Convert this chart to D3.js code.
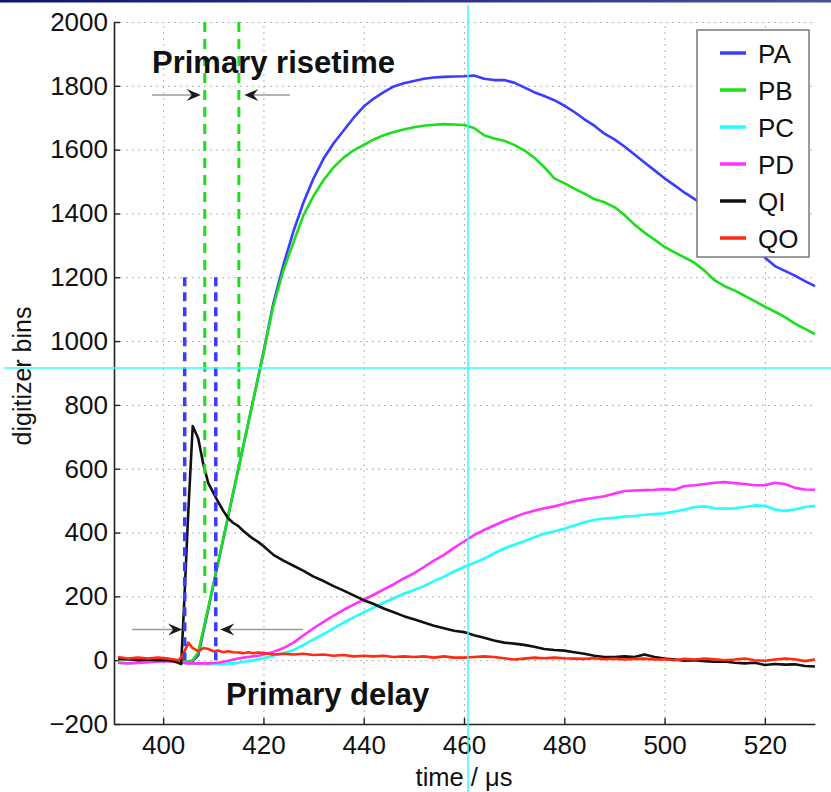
<!DOCTYPE html>
<html><head><meta charset="utf-8">
<script src="https://cdn.jsdelivr.net/npm/d3@7"></script>
<style>
html,body{margin:0;padding:0;background:#fff;}
svg text{font-family:"Liberation Sans",Arial,Helvetica,sans-serif;}
</style>
</head><body>
<svg id="c" width="831" height="792"></svg>
<script>
// ---- data ----
const time = [391,393,395,397,399,401,402,403,403.6,404.2,405,405.9,407,408,409,410,411,412,413,414,415,416,417,418,419,420,
 422,424,426,428,430,432,434,436,438,440,442,444,446,448,450,452,454,456,458,460,462,464,466,468,470,472,474,476,478,480,
 482,484,486,488,490,492,494,496,498,500,502,504,506,508,510,512,514,516,518,520,522,524,526,528,530];

const PA = [3,2,0,2,1,0,-2,-3,-3,-5,-5,-3,15,88,160,234,307,380,453,526,599,672,745,818,891,964,
 1120,1240,1345,1435,1510,1572,1620,1660,1700,1735,1760,1780,1798,1808,1815,1822,1826,1828,1829,1830,1832,1822,1818,1818,1810,1795,1780,1768,1755,1738,
 1718,1695,1675,1650,1632,1610,1585,1560,1535,1510,1488,1465,1445,1420,1395,1370,1345,1320,1290,1262,1235,1220,1205,1188,1172];

const PB = [2,3,1,0,2,1,-1,-2,-2,-4,-4,0,25,95,165,238,310,382,455,528,600,672,745,818,890,962,
 1112,1222,1310,1395,1455,1505,1545,1575,1598,1615,1632,1645,1655,1663,1670,1675,1678,1680,1679,1677,1668,1645,1635,1628,1615,1598,1575,1545,1510,1495,
 1478,1462,1445,1435,1420,1395,1365,1340,1318,1295,1278,1262,1245,1220,1190,1172,1158,1142,1125,1108,1092,1075,1055,1038,1022];

const PC = [-8,-10,-8,-5,-3,-2,-3,-4,-6,-8,-10,-10,-12,-12,-13,-12,-12,-12,-10,-10,-8,-5,-3,0,3,6,
 14,22,32,48,65,82,100,118,134,150,165,180,195,208,220,232,248,262,278,292,305,318,335,350,362,373,385,396,404,412,
 422,432,440,444,446,450,452,456,458,460,466,472,480,482,476,475,476,480,485,484,472,468,472,480,484];

const PD = [-8,-10,-9,-6,-4,-3,-4,-5,-7,-9,-10,-10,-10,-10,-10,-9,-8,-5,-2,2,5,8,10,12,14,18,
 26,38,55,78,100,120,140,158,174,190,205,222,238,256,272,292,312,330,352,372,392,408,422,436,448,460,468,476,482,490,
 498,504,509,514,522,530,532,533,534,536,534,546,548,552,556,558,555,552,548,548,556,552,540,535,534];

const QI = [5,3,0,2,0,0,-3,-8,-12,180,460,734,695,615,555,525,495,468,444,430,420,405,392,380,370,358,
 330,312,296,280,262,248,232,218,203,188,176,162,150,138,128,118,108,100,92,88,78,70,62,55,52,48,42,35,32,30,
 25,20,14,10,10,12,10,18,10,5,2,-2,0,-3,-5,-4,-8,-10,-8,-15,-12,-14,-13,-18,-20];

const QO = [10,5,8,5,8,5,3,0,8,25,55,38,28,38,35,28,30,25,28,25,24,22,25,22,24,22,
 18,20,18,20,16,18,14,16,12,14,12,14,10,12,10,12,8,12,8,8,10,12,10,6,2,5,8,6,8,6,
 5,4,6,3,5,2,4,5,2,3,0,4,2,5,3,0,2,5,0,-2,2,5,3,-3,2];

const seriesNames = ["PA","PB","PC","PD","QI","QO"];
const seriesValues = [PA,PB,PC,PD,QI,QO];
const seriesColors = ["#3a3cff","#19e019","#22ffff","#ff33ff","#111111","#ff2a10"];

const xTicks = [400,420,440,460,480,500,520];
const yTicks = [-200,0,200,400,600,800,1000,1200,1400,1600,1800,2000];

// annotation markers (times and value extents)
const risetimeMarks = [{t:408.3, from:2000, to:200},{t:415.1, from:2000, to:600}];
const delayMarks = [{t:404.3, from:1200, to:0},{t:410.5, from:1200, to:0}];

// ---- drawing ----
const svg = d3.select("#c");
const x = d3.scaleLinear().domain([390.2,530]).range([114,815]);
const y = d3.scaleLinear().domain([-200,2000]).range([724,22]);

// top banner line
const grad = svg.append("defs").append("linearGradient").attr("id","bar").attr("x1","0").attr("x2","1");
grad.append("stop").attr("offset","0").attr("stop-color","#0b1670");
grad.append("stop").attr("offset","1").attr("stop-color","#4a4f98");
svg.append("rect").attr("x",0).attr("y",0).attr("width",831).attr("height",2.5).attr("fill","url(#bar)");

// grid
const grid = svg.append("g").attr("stroke","#b4b4b4").attr("stroke-width",1).attr("stroke-dasharray","2,4");
grid.selectAll("line.h").data(yTicks).join("line").attr("class","h")
  .attr("x1",x.range()[0]).attr("x2",x.range()[1]).attr("y1",d=>y(d)+0.5).attr("y2",d=>y(d)+0.5);
grid.selectAll("line.v").data(xTicks).join("line").attr("class","v")
  .attr("y1",y.range()[0]).attr("y2",y.range()[1]).attr("x1",d=>x(d)+0.5).attr("x2",d=>x(d)+0.5);

// axes
const yAxis = d3.axisLeft(y).tickValues(yTicks).tickSizeInner(-6).tickSizeOuter(0).tickPadding(6)
  .tickFormat(d=> d<0 ? "\u2212"+Math.abs(d) : String(d));
const xAxis = d3.axisBottom(x).tickValues(xTicks).tickSizeInner(-6).tickSizeOuter(0).tickPadding(12);
const gy = svg.append("g").attr("transform",`translate(${x.range()[0]},0)`).call(yAxis);
const gx = svg.append("g").attr("transform",`translate(0,${y.range()[0]})`).call(xAxis);
[gx,gy].forEach(g=>{
  g.select(".domain").attr("stroke","#222").attr("stroke-width",1.6);
  g.selectAll(".tick line").attr("stroke","#222").attr("stroke-width",1.4);
  g.selectAll(".tick text").attr("font-size",26).attr("fill","#111")
   .attr("font-family","'Liberation Sans',Arial,sans-serif");
});

// axis labels
svg.append("text").attr("x",464).attr("y",786).attr("text-anchor","middle")
  .attr("font-size",25.5).attr("fill","#111").text("time / \u03bcs");
svg.append("text").attr("transform","translate(31,376) rotate(-90)").attr("text-anchor","middle")
  .attr("font-size",25).attr("fill","#111").text("digitizer bins");

// curves
const line = d3.line().x((d,i)=>x(time[i])).y(d=>y(d));
const curves = svg.append("g").attr("fill","none").attr("stroke-width",2.6).attr("stroke-linejoin","round");
seriesValues.forEach((vals,k)=>{
  curves.append("path").datum(vals).attr("d",line).attr("stroke",seriesColors[k]);
});

// dashed markers
const marks = svg.append("g").attr("fill","none");
marks.selectAll("line.g").data(risetimeMarks).join("line").attr("class","g")
  .attr("x1",d=>x(d.t)).attr("x2",d=>x(d.t)).attr("y1",d=>y(d.from)).attr("y2",d=>y(d.to))
  .attr("stroke","#19e019").attr("stroke-width",3).attr("stroke-dasharray","10,7");
marks.selectAll("line.b").data(delayMarks).join("line").attr("class","b")
  .attr("x1",d=>x(d.t)).attr("x2",d=>x(d.t)).attr("y1",d=>y(d.from)).attr("y2",d=>y(d.to))
  .attr("stroke","#3a3cff").attr("stroke-width",3.5).attr("stroke-dasharray","9,6");

// arrows
function arrow(t0,t1,v){
  const x0=x(t0), x1=x(t1), yy=y(v), dir = x1>x0?1:-1;
  svg.append("line").attr("x1",x0).attr("x2",x1-dir*6).attr("y1",yy).attr("y2",yy)
    .attr("stroke","#9a9a9a").attr("stroke-width",1.6);
  const p = [[x1,yy],[x1-dir*14,yy-6],[x1-dir*9,yy],[x1-dir*14,yy+6]];
  svg.append("path").attr("d","M"+p.map(q=>q.join(",")).join("L")+"Z").attr("fill","#1a1a1a");
}
arrow(397.8,407.5,1771);
arrow(425.3,416.2,1771);
arrow(393.8,403.8,96);
arrow(427.9,411.4,96);

// annotation texts
svg.append("text").attr("x",152).attr("y",73).attr("font-size",31).attr("font-weight","bold")
  .attr("fill","#111").text("Primary risetime");
svg.append("text").attr("x",226).attr("y",705).attr("font-size",31).attr("font-weight","bold")
  .attr("fill","#111").text("Primary delay");

// legend
const lg = svg.append("g");
lg.append("rect").attr("x",697).attr("y",30).attr("width",112).attr("height",227)
  .attr("fill","#fff").attr("stroke","#7a7a7a").attr("stroke-width",1.5);
seriesNames.forEach((n,i)=>{
  const yy = 53 + i*37;
  lg.append("line").attr("x1",720).attr("x2",746).attr("y1",yy).attr("y2",yy)
    .attr("stroke",seriesColors[i]).attr("stroke-width",3.5);
  lg.append("text").attr("x",758).attr("y",yy+9.5).attr("font-size",26).attr("fill","#111").text(n);
});

// cyan crosshair overlay
svg.append("line").attr("x1",468).attr("x2",468).attr("y1",5).attr("y2",792)
  .attr("stroke","#33ffff").attr("stroke-width",1.5);
svg.append("line").attr("x1",4).attr("x2",831).attr("y1",368).attr("y2",368)
  .attr("stroke","#33ffff").attr("stroke-width",1.5);
</script>
</body></html>
